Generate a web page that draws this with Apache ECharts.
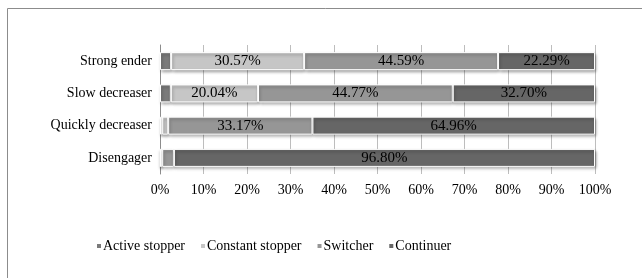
<!DOCTYPE html>
<html>
<head>
<meta charset="utf-8">
<script src="https://cdn.jsdelivr.net/npm/echarts@6/dist/echarts.min.js"></script>
<style>
  html, body { margin: 0; padding: 0; background: #fff; }
  #chart { width: 642px; height: 278px; }
</style>
</head>
<body>
<div id="chart"></div>
<script>
const categories = ['Strong ender', 'Slow decreaser', 'Quickly decreaser', 'Disengager']
const seriesNames = ['Active stopper', 'Constant stopper', 'Switcher', 'Continuer']
const activeStopper = [2.55, 2.49, 0.5, 0]
const constantStopper = [30.57, 20.04, 1.37, 0.5]
const switcher = [44.59, 44.77, 33.17, 2.7]
const continuer = [22.29, 32.70, 64.96, 96.80]
const colors = ['#7a7a7a', '#c6c6c6', '#969696', '#666666']

const font = 'Liberation Serif'
const values = [activeStopper, constantStopper, switcher, continuer]

const series = seriesNames.map((name, i) => ({
	name: name,
	type: 'bar',
	stack: 'total',
	barWidth: 18,
	data: values[i],
	itemStyle: {
		color: colors[i],
		borderColor: '#fff',
		borderWidth: 1,
		shadowBlur: 3,
		shadowColor: 'rgba(0,0,0,0.35)',
		shadowOffsetX: 1,
		shadowOffsetY: 2,
	},
	label: {
		show: true,
		position: 'inside',
		fontFamily: font,
		fontSize: 15,
		color: '#000',
		formatter: (p) => (p.value >= 10 ? p.value.toFixed(2) + '%' : ''),
	},
}))

const chart = echarts.init(document.getElementById('chart'))
chart.setOption({
	animation: false,
	textStyle: { fontFamily: font },
	graphic: [
		{
			type: 'rect',
			shape: { x: 7.5, y: 8.5, width: 700, height: 300 },
			style: { fill: 'none', stroke: '#8c8c8c', lineWidth: 1 },
			silent: true,
		},
	],
	grid: { left: 160, right: 47, top: 45, bottom: 104 },
	legend: {
		left: 90,
		top: 234,
		itemWidth: 6,
		itemHeight: 6,
		itemGap: 14,
		icon: 'rect',
		textStyle: {
			fontFamily: font,
			fontSize: 14,
			color: '#000',
			padding: [0, 0, 0, -4],
		},
		data: seriesNames,
	},
	xAxis: {
		type: 'value',
		min: 0,
		max: 100,
		interval: 10,
		axisLine: { show: false },
		axisTick: { show: false },
		axisLabel: {
			fontFamily: font,
			fontSize: 14,
			color: '#000',
			margin: 9,
			formatter: '{value}%',
		},
		splitLine: { show: true, lineStyle: { color: '#bdbdbd', width: 1 } },
	},
	yAxis: {
		type: 'category',
		inverse: true,
		data: categories,
		axisLine: { show: true, lineStyle: { color: '#8c8c8c', width: 1 } },
		axisTick: { show: false },
		axisLabel: { fontFamily: font, fontSize: 14, color: '#000', margin: 8 },
	},
	series: series,
})
</script>
</body>
</html>
